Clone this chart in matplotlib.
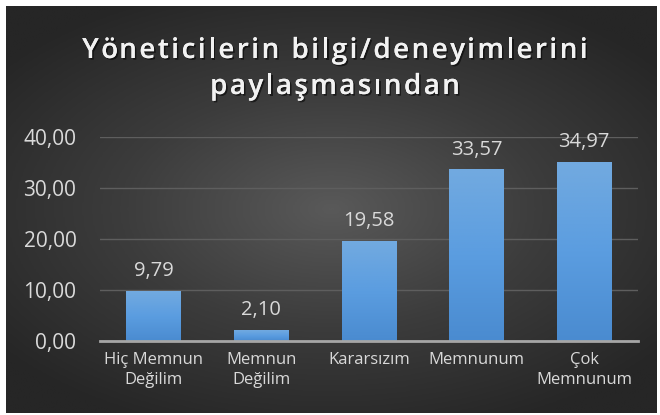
import numpy as np
import matplotlib
matplotlib.use("Agg")
import matplotlib.pyplot as plt
from matplotlib.colors import LinearSegmentedColormap
from matplotlib.font_manager import FontProperties
import matplotlib.patheffects as pe

categories = ["Hiç Memnun\nDeğilim", "Memnun\nDeğilim", "Kararsızım", "Memnunum", "Çok\nMemnunum"]
values = [9.79, 2.10, 19.58, 33.57, 34.97]
yticks = [0, 10, 20, 30, 40]
title_lines = ["Yöneticilerin bilgi/deneyimlerini", "paylaşmasından"]

W, H = 660, 415
fig = plt.figure(figsize=(W/100, H/100), dpi=100)
fig.patch.set_facecolor("white")

# background radial gradient panel
bg = fig.add_axes([6/W, 2/H, (657-6)/W, 407/H])
bg.set_axis_off()
yy, xx = np.mgrid[-1:1:300j, -1:1:400j]
r = np.sqrt((xx*0.85)**2 + (yy*0.95)**2)
r = np.clip(r / 1.1, 0, 1)
cmap_bg = LinearSegmentedColormap.from_list("bg", ["#595959", "#3c3c3c", "#262626"])
bg.imshow(r, cmap=cmap_bg, aspect="auto", extent=[0, 1, 0, 1], interpolation="bilinear")
bg.set_xlim(0, 1); bg.set_ylim(0, 1)

ax = fig.add_axes([100/W, (H-341)/H, (638-100)/W, (341-137)/H])
ax.patch.set_alpha(0)

x = np.arange(len(values))
bars = ax.bar(x, values, width=0.51, color="none", zorder=3)
grad = np.linspace(1, 0, 256).reshape(-1, 1)
cmap_bar = LinearSegmentedColormap.from_list("bar", ["#4a8bd0", "#5b9de0", "#72aae0"])
for b in bars:
    bx, by, bw, bh = b.get_x(), b.get_y(), b.get_width(), b.get_height()
    ax.imshow(grad, cmap=cmap_bar, aspect="auto", extent=[bx, bx + bw, by, by + bh],
              zorder=3, interpolation="bilinear")
ax.set_xlim(-0.5, len(values) - 0.5)
ax.set_ylim(0, 40)

for xi, v in zip(x, values):
    ax.text(xi, v + 2.0, f"{v:.2f}".replace(".", ","), ha="center", va="bottom",
            color="#d9d9d9", fontsize=14.5, family="Open Sans", zorder=4)

ax.set_yticks(yticks)
ax.set_yticklabels([f"{t:.2f}".replace(".", ",") for t in yticks])
ax.set_xticks(x)
ax.set_xticklabels(categories)
ax.tick_params(axis="y", length=0, pad=17, labelsize=15, labelcolor="#d9d9d9")
ax.tick_params(axis="x", length=0, pad=8, labelsize=12, labelcolor="#d9d9d9")
for lab in ax.get_yticklabels() + ax.get_xticklabels():
    lab.set_family("Open Sans")
for lab in ax.get_xticklabels():
    lab.set_linespacing(1.35)

ax.grid(axis="y", color="#5e5e5e", linewidth=1.0, zorder=0)
ax.set_axisbelow(True)
for s in ["top", "right", "left"]:
    ax.spines[s].set_visible(False)
ax.spines["bottom"].set_color("#a6a6a6")
ax.spines["bottom"].set_linewidth(2)
ax.spines["bottom"].set_zorder(5)

# letter-spaced title
renderer = fig.canvas.get_renderer()
prop = FontProperties(family="Open Sans", weight="semibold", size=20)
tracking = 2.5  # px between letters
baselines = [58, 94]
shadow = [pe.withSimplePatchShadow(offset=(1.2, -1.2), shadow_rgbFace="black", alpha=0.55), pe.Normal()]


def pw(s):
    if not s:
        return 0.0
    w, h, d = renderer.get_text_width_height_descent(s, prop, ismath=False)
    return w


for line, base in zip(title_lines, baselines):
    total = pw(line) + tracking * (len(line) - 1)
    x0 = 335 - total / 2
    for i, ch in enumerate(line):
        if ch == " ":
            continue
        xp = x0 + pw(line[:i]) + tracking * i
        fig.text(xp / W, 1 - base / H, ch, ha="left", va="baseline", color="#f2f2f2",
                 fontproperties=prop, path_effects=shadow)

fig.savefig("out.png", dpi=100, facecolor="white")
